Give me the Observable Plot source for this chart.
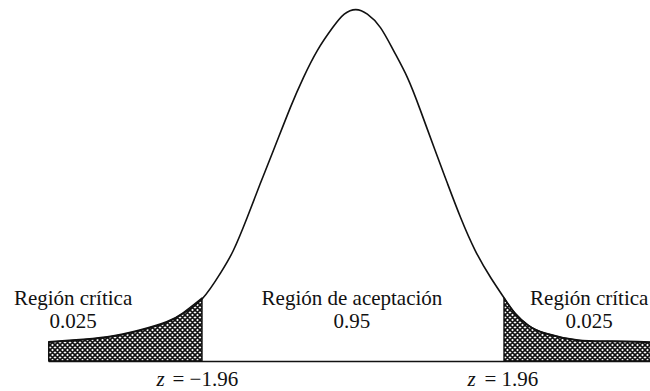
<!DOCTYPE html>
<html>
<head>
<meta charset="utf-8">
<script src="https://cdn.jsdelivr.net/npm/d3@7"></script>
<script src="https://cdn.jsdelivr.net/npm/@observablehq/plot@0.6"></script>
<style>
  html, body { margin: 0; padding: 0; background: #fff; }
  #chart svg { display: block; }
</style>
</head>
<body>
<div id="chart"></div>
<script>
// Curve: z position and density height
const zVals = [-3.95,-3.64,-3.19,-2.77,-2.42,-2.21,-1.96,-1.73,-1.56,-1.38,-1.21,-1.04,-0.82,-0.65,-0.47,-0.27,-0.12,0.03,0.18,0.35,0.52,0.70,0.87,1.06,1.22,1.39,1.58,1.78,1.96,2.10,2.27,2.49,2.92,3.36,3.86];
const density = [0.0219,0.0238,0.0275,0.0351,0.0445,0.0544,0.0714,0.0997,0.1258,0.1632,0.2017,0.2391,0.2878,0.3218,0.3524,0.3785,0.3937,0.3989,0.3937,0.3785,0.3524,0.3218,0.2844,0.2391,0.2017,0.1632,0.1258,0.0952,0.0714,0.0544,0.0408,0.0317,0.0238,0.0227,0.0215];

const criticalValues = [-1.96, 1.96];
const regionNames = ["Región crítica", "Región de aceptación", "Región crítica"];
const regionProbs = ["0.025", "0.95", "0.025"];

const curve = zVals.map((z, i) => ({z, d: density[i]}));
const leftTail = curve.filter(p => p.z <= criticalValues[0]);
const rightTail = curve.filter(p => p.z >= criticalValues[1]);

const labelZ = [-3.64, -0.02, 3.06];
const regionLabels = regionNames.map((n, i) => ({z: labelZ[i], t: n + "\n" + regionProbs[i]}));
const critLabels = criticalValues.map(v => ({z: v, t: "= " + (v < 0 ? "\u2212" : "") + Math.abs(v).toFixed(2)}));

const font = "Liberation Serif";
const curveType = "natural";

const chart = Plot.plot({
  width: 650,
  height: 391,
  marginTop: 0,
  marginRight: 0,
  marginBottom: 30,
  marginLeft: 0,
  style: {background: "white", overflow: "visible"},
  x: {domain: [-353 / 77.04, 297 / 77.04], axis: null},
  y: {domain: [0, 361 / 882.2], axis: null},
  marks: [
    Plot.areaY(leftTail, {x: "z", y: "d", curve: curveType, fill: "url(#xhatch)", stroke: "#111", strokeWidth: 1.4}),
    Plot.areaY(rightTail, {x: "z", y: "d", curve: curveType, fill: "url(#xhatch)", stroke: "#111", strokeWidth: 1.4}),
    Plot.ruleY([0], {x1: zVals[0], x2: zVals[zVals.length - 1], stroke: "#111", strokeWidth: 1.5}),
    Plot.line(curve, {x: "z", y: "d", curve: curveType, stroke: "#111", strokeWidth: 1.6}),
    Plot.text(regionLabels, {x: "z", y: 0.0385, text: "t", lineAnchor: "bottom", lineHeight: 1.05, textAnchor: "middle", fontSize: 21, fill: "#111", fontFamily: font}),
    Plot.text(critLabels, {x: "z", y: -0.0283, text: () => "z", textAnchor: "start", dx: -46, fontSize: 21, fontStyle: "italic", fill: "#111", fontFamily: font, lineAnchor: "bottom", filter: d => d.z < 0}),
    Plot.text(critLabels, {x: "z", y: -0.0283, text: "t", textAnchor: "start", dx: -30, fontSize: 21, fill: "#111", fontFamily: font, lineAnchor: "bottom", filter: d => d.z < 0}),
    Plot.text(critLabels, {x: "z", y: -0.0283, text: () => "z", textAnchor: "start", dx: -37, fontSize: 21, fontStyle: "italic", fill: "#111", fontFamily: font, lineAnchor: "bottom", filter: d => d.z > 0}),
    Plot.text(critLabels, {x: "z", y: -0.0283, text: "t", textAnchor: "start", dx: -20, fontSize: 21, fill: "#111", fontFamily: font, lineAnchor: "bottom", filter: d => d.z > 0})
  ]
});

d3.select(chart).selectAll("text, tspan").style("font-family", "'Liberation Serif', serif");

// crosshatch pattern
const defs = d3.select(chart).insert("defs", ":first-child");
const pat = defs.append("pattern")
  .attr("id", "xhatch")
  .attr("patternUnits", "userSpaceOnUse")
  .attr("width", 5).attr("height", 5);
pat.append("rect").attr("width", 5).attr("height", 5).attr("fill", "white");
pat.append("path")
  .attr("d", "M0,0L5,5M5,0L0,5M-1,1L1,-1M4,6L6,4M-1,4L1,6M4,-1L6,1")
  .attr("stroke", "#111").attr("stroke-width", 1.6).attr("fill", "none");

document.getElementById("chart").appendChild(chart);
</script>
</body>
</html>
